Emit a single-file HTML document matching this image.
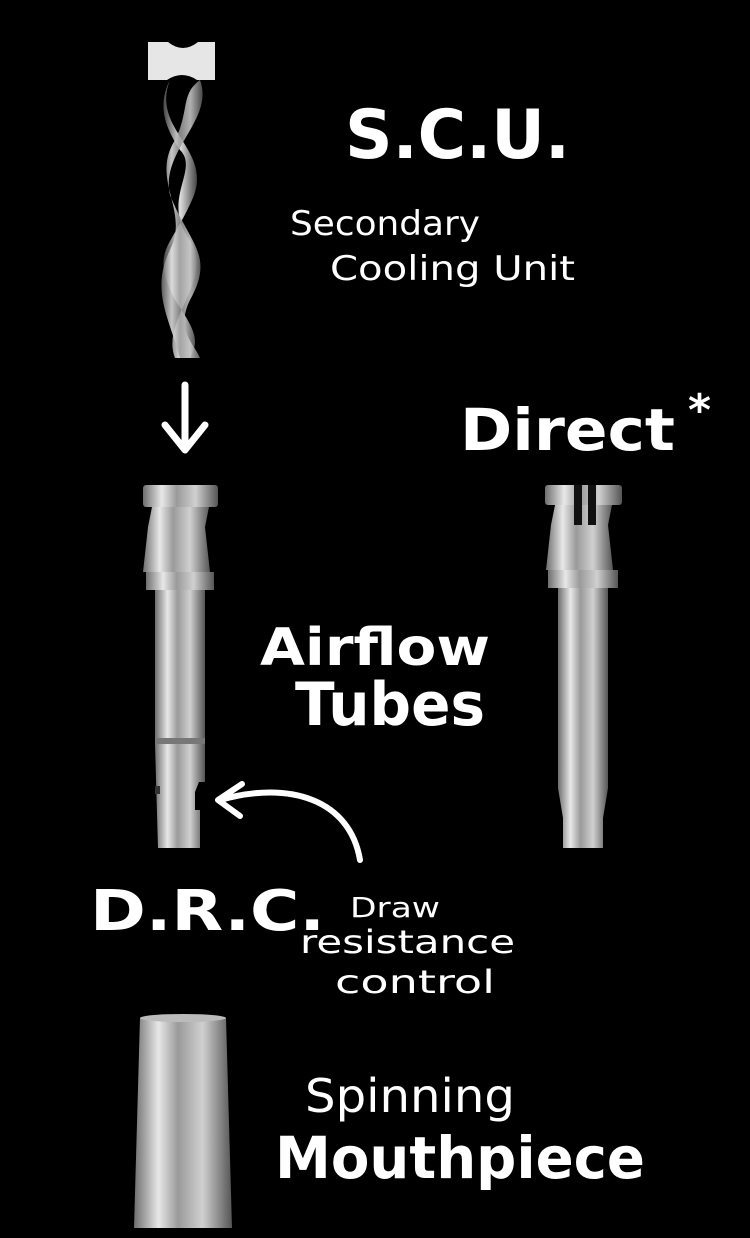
<!DOCTYPE html>
<html><head><meta charset="utf-8"><style>
html,body{margin:0;padding:0;background:#000;}
svg{display:block}
text{fill:#fff;font-family:"DejaVu Sans","Liberation Sans",sans-serif;}
</style></head><body>
<svg width="750" height="1238" viewBox="0 0 750 1238" xmlns="http://www.w3.org/2000/svg">
<defs>
<linearGradient id="m" x1="0" x2="1" y1="0" y2="0">
<stop offset="0" stop-color="#6e6e6e"/><stop offset="0.25" stop-color="#e8e8e8"/>
<stop offset="0.45" stop-color="#9a9a9a"/><stop offset="0.7" stop-color="#d0d0d0"/>
<stop offset="1" stop-color="#555"/></linearGradient>
<linearGradient id="t" x1="0" x2="1"><stop offset="0" stop-color="#444"/><stop offset="0.5" stop-color="#ddd"/><stop offset="1" stop-color="#444"/></linearGradient>
</defs>
<rect width="750" height="1238" fill="#000"/>
<!-- SCU -->
<path d="M148 42 h20 q15 12 30 0 h17 v38 h-18 q-15 -10 -30 0 h-19z" fill="#e6e6e6"/>
<path d="M170 80 C150 130,215 150,192 200 C170 250,150 250,175 300 C195 330,200 340,190 358 L175 358 C160 320,215 280,190 240 C160 200,200 170,180 150 C160 120,160 100,170 80z" fill="url(#t)"/>
<path d="M200 80 C215 120,160 150,170 195 C190 245,215 255,190 300 C175 330,195 345,200 358 L180 358 C170 320,150 290,170 250 C190 210,150 180,175 140 C190 110,180 95,200 80z" fill="url(#m)" opacity="0.85"/>
<text x="345" y="158" font-size="68" font-weight="bold" textLength="225" lengthAdjust="spacingAndGlyphs">S.C.U.</text>
<text x="290" y="235" font-size="34" textLength="190" lengthAdjust="spacingAndGlyphs">Secondary</text>
<text x="330" y="280" font-size="34" textLength="245" lengthAdjust="spacingAndGlyphs">Cooling Unit</text>
<!-- arrow down -->
<path d="M185 385 V448 M165 425 L185 450 L205 425" stroke="#fff" stroke-width="7" fill="none" stroke-linecap="round" stroke-linejoin="round"/>
<text x="460" y="450" font-size="58" font-weight="bold" textLength="215" lengthAdjust="spacingAndGlyphs">Direct</text>
<text x="688" y="425" font-size="44" font-weight="bold">*</text>
<!-- left tube -->
<rect x="143" y="485" width="75" height="22" rx="3" fill="url(#m)"/>
<path d="M152 507 h57 l-4 20 l5 45 h-67 l5 -45z" fill="url(#m)"/>
<rect x="146" y="572" width="68" height="18" fill="url(#m)"/>
<rect x="155" y="590" width="50" height="150" fill="url(#m)"/>
<rect x="155" y="738" width="50" height="6" fill="#777"/>
<path d="M155 744 h50 v38 h-6 l-4 10 v18 h5 v38 h-42 z" fill="url(#m)"/>
<rect x="155" y="786" width="5" height="8" fill="#333"/>
<!-- right tube -->
<rect x="545" y="485" width="77" height="20" rx="3" fill="url(#m)"/>
<path d="M555 505 h57 l-4 20 l5 45 h-67 l5 -45z" fill="url(#m)"/>
<rect x="574" y="485" width="8" height="40" fill="#111"/><rect x="588" y="485" width="8" height="40" fill="#111"/>
<rect x="548" y="570" width="70" height="18" fill="url(#m)"/>
<path d="M558 588 h50 v200 l-5 30 v30 h-40 v-30 l-5 -30z" fill="url(#m)"/>
<text x="260" y="665" font-size="52" font-weight="bold" textLength="230" lengthAdjust="spacingAndGlyphs">Airflow</text>
<text x="295" y="725" font-size="60" font-weight="bold" textLength="190" lengthAdjust="spacingAndGlyphs">Tubes</text>
<!-- curved arrow -->
<path d="M360 860 C350 800,290 780,220 800 M242 784 L218 800 L240 816" stroke="#fff" stroke-width="6" fill="none" stroke-linecap="round" stroke-linejoin="round"/>
<text x="90" y="930" font-size="56" font-weight="bold" textLength="235" lengthAdjust="spacingAndGlyphs">D.R.C.</text>
<text x="350" y="917" font-size="28" textLength="90" lengthAdjust="spacingAndGlyphs">Draw</text>
<text x="300" y="953" font-size="32" textLength="215" lengthAdjust="spacingAndGlyphs">resistance</text>
<text x="335" y="993" font-size="32" textLength="160" lengthAdjust="spacingAndGlyphs">control</text>
<!-- mouthpiece -->
<path d="M140 1018 h86 l6 210 h-98z" fill="url(#m)"/>
<ellipse cx="183" cy="1018" rx="43" ry="4" fill="#bbb"/>
<text x="305" y="1112" font-size="46" textLength="210" lengthAdjust="spacingAndGlyphs">Spinning</text>
<text x="275" y="1178" font-size="58" font-weight="bold" textLength="370" lengthAdjust="spacingAndGlyphs">Mouthpiece</text>
</svg>
</body></html>
